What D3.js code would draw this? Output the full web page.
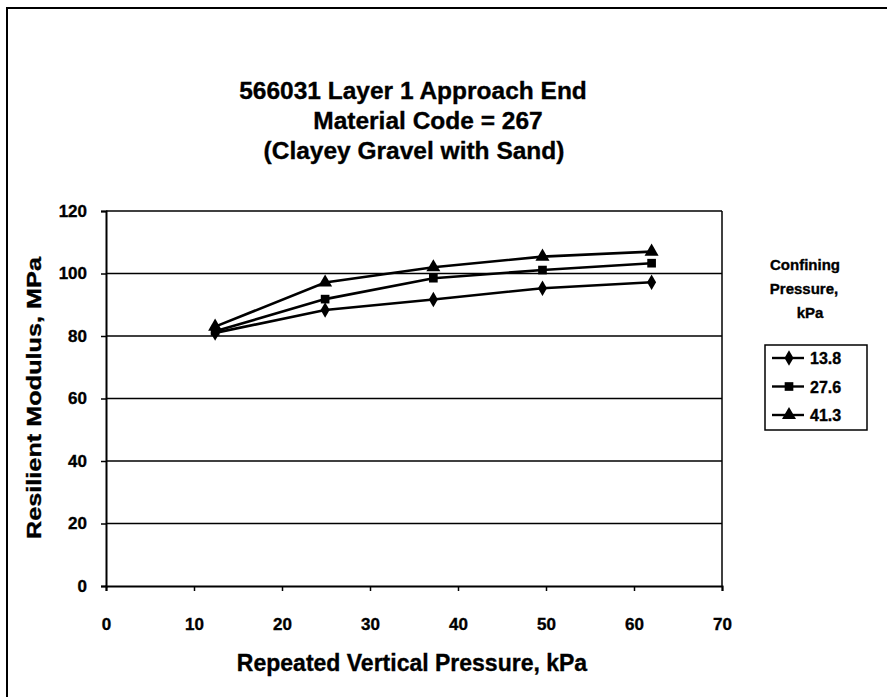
<!DOCTYPE html>
<html>
<head>
<meta charset="utf-8">
<script src="https://cdn.jsdelivr.net/npm/d3@7"></script>
<style>
  html, body { margin: 0; padding: 0; background: #fff; }
  svg { display: block; font-family: "Liberation Sans", Arial, Helvetica, sans-serif; }
  text { stroke: #000; stroke-width: 0.35px; }
</style>
</head>
<body>
<svg id="chart" width="887" height="697"></svg>
<script>
// ---- data ----
const titleLines = ["566031 Layer 1 Approach End", "Material Code = 267", "(Clayey Gravel with Sand)"];
const xValues = [12.4, 24.9, 37.2, 49.6, 62.0];
const seriesNames = ["13.8", "27.6", "41.3"];
const series138 = [81.0, 88.3, 91.7, 95.3, 97.2];
const series276 = [81.5, 91.8, 98.5, 101.1, 103.3];
const series413 = [83.0, 97.1, 102.0, 105.4, 107.0];
const xTicks = [0, 10, 20, 30, 40, 50, 60, 70];
const yTicks = [0, 20, 40, 60, 80, 100, 120];
const xTitle = "Repeated Vertical Pressure, kPa";
const yTitle = "Resilient Modulus, MPa";
const legendTitle = ["Confining", "Pressure,", "kPa"];

const svg = d3.select("#chart");

// outer frame
svg.append("rect").attr("x", 7).attr("y", 8).attr("width", 900).attr("height", 720)
  .attr("fill", "none").attr("stroke", "#000").attr("stroke-width", 2);

const L = 106, R = 722, T = 211, B = 586;
const x = d3.scaleLinear().domain([0, 70]).range([L, R]);
const y = d3.scaleLinear().domain([0, 120]).range([B, T]);

// title
const tY = [99, 129, 159];
const tX = [413, 428, 414];
titleLines.forEach((t, i) => {
  svg.append("text").attr("x", tX[i]).attr("y", tY[i]).attr("text-anchor", "middle")
    .attr("font-size", 24.5).attr("font-weight", "bold").text(t);
});

// gridlines
svg.append("g").selectAll("line").data(yTicks.filter(d => d > 0)).join("line")
  .attr("x1", L).attr("x2", R).attr("y1", d => y(d)).attr("y2", d => y(d))
  .attr("stroke", "#000").attr("stroke-width", 1.3);
// right border
svg.append("line").attr("x1", R).attr("x2", R).attr("y1", T).attr("y2", B)
  .attr("stroke", "#000").attr("stroke-width", 1.5);

// axes
const yAxis = d3.axisLeft(y).tickValues(yTicks).tickSize(5).tickPadding(12).tickFormat(d3.format("d"));
const gy = svg.append("g").attr("transform", `translate(${L},0)`).call(yAxis);
const xAxis = d3.axisBottom(x).tickValues(xTicks).tickSize(5).tickPadding(27).tickFormat(d3.format("d"));
const gx = svg.append("g").attr("transform", `translate(0,${B})`).call(xAxis);
[gx, gy].forEach(g => {
  g.select(".domain").attr("stroke", "#000").attr("stroke-width", 2);
  g.selectAll(".tick line").attr("stroke", "#000").attr("stroke-width", 1.5);
  g.selectAll(".tick text").attr("font-size", 17).attr("font-weight", "bold")
    .attr("fill", "#000").attr("font-family", "'Liberation Sans', Arial, sans-serif");
});
gy.selectAll(".tick text").attr("x", -19);

// axis titles
svg.append("text").attr("x", 412).attr("y", 671).attr("text-anchor", "middle")
  .attr("font-size", 23).attr("font-weight", "bold").text(xTitle);
svg.append("text").attr("transform", "translate(41,398) rotate(-90)").attr("text-anchor", "middle")
  .attr("font-size", 21).attr("font-weight", "bold")
  .attr("textLength", 282).attr("lengthAdjust", "spacingAndGlyphs").text(yTitle);

// series
const allSeries = [series138, series276, series413];
const shapes = [d3.symbolDiamond, d3.symbolSquare, d3.symbolTriangle];
const sizes = [70, 75, 85];
const line = d3.line().x((d, i) => x(xValues[i])).y(d => y(d));
allSeries.forEach((s, k) => {
  svg.append("path").datum(s).attr("d", line).attr("fill", "none")
    .attr("stroke", "#000").attr("stroke-width", 2.6);
  svg.append("g").selectAll("path").data(s).join("path")
    .attr("transform", (d, i) => `translate(${x(xValues[i])},${y(d)})`)
    .attr("d", d3.symbol().type(shapes[k]).size(sizes[k])).attr("fill", "#000");
});

// legend
const lgY = [270, 294, 318];
const lgX = [805, 804, 810];
legendTitle.forEach((t, i) => {
  svg.append("text").attr("x", lgX[i]).attr("y", lgY[i]).attr("text-anchor", "middle")
    .attr("font-size", 15).attr("font-weight", "bold").text(t);
});
svg.append("rect").attr("x", 765).attr("y", 345).attr("width", 102).attr("height", 85)
  .attr("fill", "none").attr("stroke", "#000").attr("stroke-width", 1.5);
seriesNames.forEach((n, k) => {
  const yy = 358 + k * 28.5;
  svg.append("line").attr("x1", 772).attr("x2", 804).attr("y1", yy).attr("y2", yy)
    .attr("stroke", "#000").attr("stroke-width", 2.4);
  svg.append("path").attr("transform", `translate(789,${yy})`)
    .attr("d", d3.symbol().type(shapes[k]).size(sizes[k])).attr("fill", "#000");
  svg.append("text").attr("x", 810).attr("y", yy + 6).attr("font-size", 16)
    .attr("font-weight", "bold").text(n);
});
</script>
</body>
</html>
